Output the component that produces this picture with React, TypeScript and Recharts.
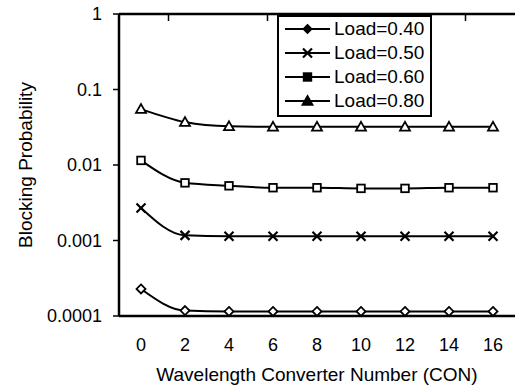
import React from "react";
import { LineChart, Line, XAxis, YAxis } from "recharts";

// CON values on the x axis
const con = [0, 2, 4, 6, 8, 10, 12, 14, 16];
const betweenTicks = [1, 3, 5, 7, 9, 11, 13, 15];
const yTicks = [0.0001, 0.001, 0.01, 0.1, 1];

// blocking probability per load
const load40 = [0.000228, 0.000118, 0.000115, 0.000115, 0.000115, 0.000115, 0.000115, 0.000115, 0.000115];
const load50 = [0.0027, 0.00117, 0.00114, 0.00114, 0.00114, 0.00114, 0.00114, 0.00114, 0.00114];
const load60 = [0.0115, 0.0058, 0.0053, 0.005, 0.005, 0.0049, 0.0049, 0.005, 0.005];
const load80 = [0.055, 0.037, 0.0325, 0.032, 0.032, 0.032, 0.032, 0.032, 0.032];

const seriesNames = ["Load=0.40", "Load=0.50", "Load=0.60", "Load=0.80"];
const seriesKeys = ["l40", "l50", "l60", "l80"];
const markers = ["diamond", "cross", "square", "triangle"];

const data = con.map((c, i) => ({
  con: c,
  l40: load40[i],
  l50: load50[i],
  l60: load60[i],
  l80: load80[i],
}));

const FONT = "'Liberation Sans', Arial, sans-serif";

const Marker = ({ kind, cx, cy, filled }: any) => {
  const fill = filled ? "#000" : "#fff";
  if (kind === "diamond") {
    const r = filled ? 4 : 4.5;
    return <path d={`M${cx},${cy - r}L${cx + r},${cy}L${cx},${cy + r}L${cx - r},${cy}Z`} fill={fill} stroke="#000" strokeWidth={1.8} />;
  }
  if (kind === "cross") {
    const r = 4.5;
    return (
      <g stroke="#000" strokeWidth={2.2}>
        <line x1={cx - r} y1={cy - r} x2={cx + r} y2={cy + r} />
        <line x1={cx - r} y1={cy + r} x2={cx + r} y2={cy - r} />
      </g>
    );
  }
  if (kind === "square") {
    const r = 3.8;
    return <rect x={cx - r} y={cy - r} width={2 * r} height={2 * r} fill={fill} stroke="#000" strokeWidth={1.8} />;
  }
  const r = 5;
  return <path d={`M${cx},${cy - r}L${cx + r},${cy + r * 0.75}L${cx - r},${cy + r * 0.75}Z`} fill={fill} stroke="#000" strokeWidth={1.8} />;
};

const makeDot = (kind: string) => (props: any) => (
  <Marker key={`${kind}-${props.index}`} kind={kind} cx={props.cx} cy={props.cy} />
);

const LegendBox = () => (
  <div
    style={{
      position: "absolute",
      left: 277,
      top: 15,
      border: "2px solid #000",
      background: "#fff",
      width: 151,
      paddingBottom: 2,
      fontFamily: FONT,
      fontSize: 19,
      color: "#000",
    }}
  >
    {seriesNames.map((name, i) => (
      <div key={name} style={{ display: "flex", alignItems: "center", height: 24 }}>
        <svg width={53} height={24} style={{ display: "block" }}>
          <line x1={6} y1={12} x2={51} y2={12} stroke="#000" strokeWidth={2} />
          <Marker kind={markers[i]} cx={28.5} cy={12} filled />
        </svg>
        <span style={{ marginLeft: 2, lineHeight: "24px" }}>{name}</span>
      </div>
    ))}
  </div>
);

const YTitle = (props: any) => {
  const vb = props.viewBox;
  const x = 25;
  const y = vb.y + vb.height / 2;
  return (
    <text x={x} y={y} transform={`rotate(-90 ${x} ${y})`} textAnchor="middle" dominantBaseline="central" fontFamily={FONT} fontSize={19} fill="#000">
      Blocking Probability
    </text>
  );
};

export default function App() {
  return (
    <div style={{ position: "absolute", left: 0, top: 0, width: 516, height: 387, background: "#fff" }}>
      <LineChart width={516} height={387} data={data} margin={{ top: 14, right: 1, bottom: 0, left: 0 }}>
        <XAxis
          dataKey="con"
          type="number"
          domain={[-1, 17]}
          ticks={con}
          allowDataOverflow
          axisLine={{ stroke: "#000", strokeWidth: 2.5 }}
          tickLine={false}
          tickSize={0}
          tickMargin={22}
          tick={{ fill: "#000", fontSize: 18, fontFamily: FONT }}
          height={71}
          label={{ value: "Wavelength Converter Number (CON)", position: "insideBottom", offset: 6, fill: "#000", fontSize: 19, fontFamily: FONT }}
        />
        <XAxis
          xAxisId="top"
          orientation="top"
          type="number"
          domain={[-1, 17]}
          ticks={betweenTicks}
          allowDataOverflow
          mirror
          height={1}
          axisLine={{ stroke: "#000", strokeWidth: 2.5 }}
          tickLine={{ stroke: "#000", strokeWidth: 1.5 }}
          tickSize={7}
          tickFormatter={() => ""}
        />
        <YAxis
          type="number"
          scale="log"
          domain={[0.0001, 1]}
          ticks={yTicks}
          allowDataOverflow
          width={119}
          axisLine={{ stroke: "#000", strokeWidth: 2.5 }}
          tickLine={{ stroke: "#000", strokeWidth: 1.5 }}
          tickSize={6}
          tickMargin={11}
          tick={{ fill: "#000", fontSize: 18, fontFamily: FONT }}
          tickFormatter={(v: number) => String(v)}
          label={{ content: YTitle }}
        />
        {seriesKeys.map((k, i) => (
          <Line
            key={k}
            type="monotone"
            dataKey={k}
            name={seriesNames[i]}
            stroke="#000"
            strokeWidth={2}
            dot={makeDot(markers[i])}
            activeDot={false}
            isAnimationActive={false}
          />
        ))}
      </LineChart>
      <LegendBox />
    </div>
  );
}
